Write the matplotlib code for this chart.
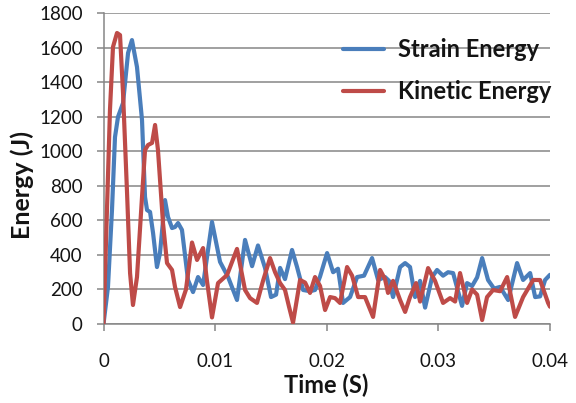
import matplotlib
matplotlib.use("Agg")
import matplotlib.pyplot as plt

# Strain energy (blue)
t_strain = [0.0, 0.00040, 0.00076, 0.00103, 0.00130, 0.00175, 0.00220, 0.00255, 0.00300, 0.00345,
            0.00372, 0.00390, 0.00417, 0.00444, 0.00479, 0.00506, 0.00551, 0.00578, 0.00614, 0.00641,
            0.00668, 0.00703, 0.00757, 0.00802, 0.00847, 0.00892, 0.00972, 0.01044, 0.01116, 0.01196,
            0.01268, 0.01331, 0.01384, 0.01447, 0.01501, 0.01546, 0.01582, 0.01626, 0.01689, 0.01734,
            0.01788, 0.01850, 0.01895, 0.01940, 0.02003, 0.02057, 0.02101, 0.02146, 0.02209, 0.02272,
            0.02334, 0.02406, 0.02460, 0.02522, 0.02558, 0.02594, 0.02657, 0.02702, 0.02746, 0.02791,
            0.02836, 0.02881, 0.02944, 0.02988, 0.03042, 0.03087, 0.03132, 0.03212, 0.03257, 0.03302,
            0.03347, 0.03392, 0.03445, 0.03499, 0.03553, 0.03625, 0.03705, 0.03759, 0.03822, 0.03867,
            0.03911, 0.03956, 0.04000]
e_strain = [0, 214, 660, 1083, 1200, 1280, 1570, 1645, 1489, 1182,
            736, 660, 649, 527, 330, 411, 718, 620, 556, 562,
            585, 545, 255, 185, 272, 226, 591, 360, 272, 139,
            487, 335, 455, 325, 156, 170, 325, 260, 429, 330,
            197, 190, 197, 275, 411, 300, 320, 122, 156, 272,
            280, 382, 255, 272, 250, 156, 330, 353, 330, 156,
            250, 95, 272, 313, 280, 300, 295, 105, 237, 220,
            270, 382, 255, 205, 215, 139, 353, 255, 295, 156,
            160, 255, 285]

# Kinetic energy (red)
t_kinetic = [0.0, 0.00031, 0.00058, 0.00085, 0.00121, 0.00148, 0.00175, 0.00211, 0.00238, 0.00264,
             0.00300, 0.00345, 0.00372, 0.00399, 0.00435, 0.00462, 0.00488, 0.00533, 0.00569, 0.00614,
             0.00641, 0.00686, 0.00739, 0.00793, 0.00838, 0.00892, 0.00927, 0.00972, 0.01026, 0.01107,
             0.01196, 0.01268, 0.01313, 0.01375, 0.01429, 0.01492, 0.01537, 0.01582, 0.01626, 0.01662,
             0.01698, 0.01761, 0.01806, 0.01850, 0.01895, 0.01940, 0.01985, 0.02030, 0.02074, 0.02119,
             0.02182, 0.02227, 0.02281, 0.02343, 0.02415, 0.02478, 0.02522, 0.02549, 0.02594, 0.02657,
             0.02702, 0.02746, 0.02800, 0.02836, 0.02908, 0.02970, 0.03042, 0.03105, 0.03150, 0.03194,
             0.03257, 0.03302, 0.03347, 0.03392, 0.03436, 0.03490, 0.03553, 0.03616, 0.03687, 0.03759,
             0.03849, 0.03911, 0.03983, 0.04000]
e_kinetic = [0, 660, 1240, 1605, 1686, 1674, 1338, 759, 295, 110,
             272, 736, 1008, 1037, 1049, 1153, 1008, 585, 353, 313,
             214, 98, 200, 472, 371, 440, 250, 38, 237, 284,
             435, 197, 150, 122, 250, 382, 300, 237, 197, 100,
             8, 255, 240, 180, 272, 220, 81, 156, 150, 122,
             330, 280, 156, 156, 41, 313, 260, 180, 250, 139,
             70, 156, 237, 130, 324, 250, 122, 150, 130, 295,
             122, 200, 170, 23, 156, 197, 190, 272, 41, 156,
             255, 255, 122, 100]

x_ticks = [0, 0.01, 0.02, 0.03, 0.04]
x_labels = ["0", "0.01", "0.02", "0.03", "0.04"]
y_ticks = list(range(0, 1801, 200))

series_names = ["Strain Energy", "Kinetic Energy"]
colors = ["#4A7EBB", "#BE4B48"]
txt = "#141414"
grid_c = "#868686"

plt.rcParams['font.family'] = ['Lato', 'DejaVu Sans']

fig = plt.figure(figsize=(5.76, 4.03), dpi=100)
ax = fig.add_axes([103.5/576, 1 - 324/403, (550 - 103.5)/576, (324 - 13.3)/403])

ax.plot(t_strain, e_strain, color=colors[0], lw=3.0, solid_joinstyle='round',
        solid_capstyle='round', label=series_names[0], zorder=3)
ax.plot(t_kinetic, e_kinetic, color=colors[1], lw=3.0, solid_joinstyle='round',
        solid_capstyle='round', label=series_names[1], zorder=4)

ax.set_xlim(0, 0.04)
ax.set_ylim(0, 1800)
ax.set_xticks(x_ticks)
ax.set_xticklabels(x_labels)
ax.set_yticks(y_ticks)

ax.grid(axis='y', color=grid_c, lw=1.1)
ax.set_axisbelow(True)
for s in ['top', 'right']:
    ax.spines[s].set_visible(False)
for s in ['left', 'bottom']:
    ax.spines[s].set_color(grid_c)
    ax.spines[s].set_linewidth(1.1)

ax.tick_params(axis='both', colors=grid_c, labelcolor=txt, labelsize=13.5, length=5, width=1.1)
ax.tick_params(axis='x', pad=16)
ax.tick_params(axis='y', pad=10)

ax.set_xlabel("Time (S)", fontsize=17, fontweight='bold', color=txt)
ax.xaxis.set_label_coords((326 - 103.5) / 446.5, -(385 - 324) / 310.7)
ax.xaxis.label.set_va('center')
ax.set_ylabel("Energy (J)", fontsize=18, fontweight='bold', color=txt)
ax.yaxis.set_label_coords(-(103.5 - 22) / 446.5, (324 - 185) / 310.7)
ax.yaxis.label.set_va('center')

leg = ax.legend(loc='upper left', bbox_to_anchor=(343/576, 1 - 38/403), bbox_transform=fig.transFigure,
                frameon=False, prop={'size': 17, 'weight': 'bold'}, handlelength=1.75,
                handletextpad=0.6, labelspacing=0.8, borderaxespad=0, borderpad=0)
for t in leg.get_texts():
    t.set_color(txt)
for h in leg.get_lines():
    h.set_linewidth(3)

fig.savefig("out.png", dpi=100)
